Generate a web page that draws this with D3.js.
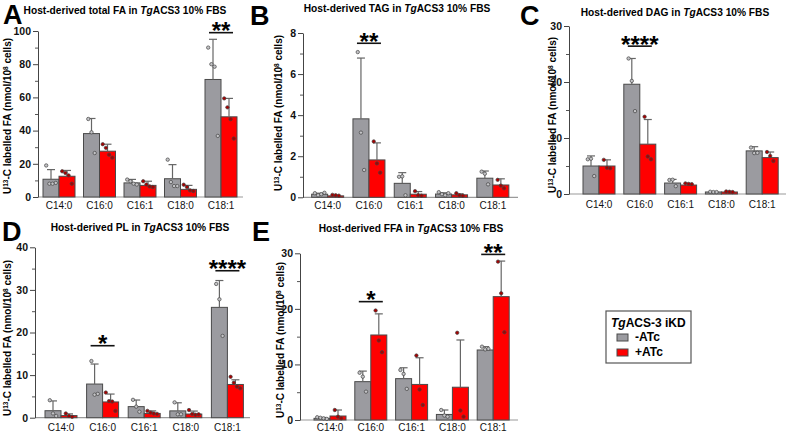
<!DOCTYPE html>
<html>
<head>
<meta charset="utf-8">
<script src="https://d3js.org/d3.v7.min.js"></script>
<style>
  body { margin: 0; background: #fff; }
  svg { font-family: Arial, 'Liberation Sans', Helvetica, sans-serif; }
  .tick text { fill: #111; }
</style>
</head>
<body>
<svg id="chart" width="789" height="432"></svg>
<script>
// categories and groups
var categories = ["C14:0", "C16:0", "C16:1", "C18:0", "C18:1"];
var groups = ["-ATc", "+ATc"];

// A: total FA
var totalMinus = [10.7, 38.2, 8.5, 11.0, 70.8];
var totalMinusSd = [5.8, 9.1, 2.1, 8.5, 24.2];
var totalMinusPts = [[19, 8, 8, 8.5], [47, 39, 26.5], [10.5, 9.5, 8, 7.5], [22.5, 9, 6.6, 6.6], [90, 80, 78.5, 36.8]];
var totalPlus = [12.5, 27.6, 7.0, 4.6, 48.3];
var totalPlusSd = [3.5, 4.2, 2.5, 2.4, 11.1];
var totalPlusPts = [[15.5, 14.5, 13, 8], [31.8, 29.6, 25.5, 23.7], [9.5, 7.6, 6.4, 6], [7.4, 6, 4, 3.6], [59.4, 54, 46.9, 35.2]];

// B: TAG
var tagMinus = [0.15, 3.82, 0.68, 0.16, 0.93];
var tagMinusSd = [0.05, 2.96, 0.52, 0.06, 0.35];
var tagMinusPts = [[0.2, 0.1, 0.15, 0.22], [7.07, 3.15, 1.33], [1.0, 1.02, 0.1], [0.25, 0.15, 0.1, 0.2], [1.25, 1.15, 0.63]];
var tagPlus = [0.07, 1.82, 0.15, 0.12, 0.6];
var tagPlusSd = [0.03, 0.83, 0.13, 0.05, 0.3];
var tagPlusPts = [[0.12, 0.1, 0.08], [2.72, 1.65, 1.2], [0.3, 0.1, 0.08], [0.2, 0.1, 0.08], [0.85, 0.57, 0.44]];

// C: DAG
var dagMinus = [5.0, 19.6, 1.96, 0.36, 7.7];
var dagMinusSd = [1.8, 4.6, 0.65, 0.05, 0.75];
var dagMinusPts = [[6.2, 6.3, 3.2], [24.2, 20.2, 14.8], [2.5, 2.55, 1.4], [0.4, 0.35, 0.35], [8.3, 7.3, 7.35]];
var dagPlus = [5.0, 8.9, 1.6, 0.36, 6.5];
var dagPlusSd = [1.1, 4.4, 0.3, 0.08, 1.0];
var dagPlusPts = [[6.1, 4.7, 4.6], [13.8, 6.7, 6.2], [1.9, 1.8, 1.75], [0.45, 0.4, 0.35], [7.5, 6.8, 5.9]];

// D: PL
var plMinus = [1.64, 7.9, 2.6, 1.6, 25.9];
var plMinusSd = [2.3, 4.7, 1.55, 1.9, 6.3];
var plMinusPts = [[4.1, 1.0, 0.4], [13.3, 5.4, 5.6], [4.2, 2.6, 1.4], [3.6, 0.8, 0.8], [31.4, 27.8, 19.2]];
var plPlus = [0.5, 3.7, 1.0, 0.86, 7.8];
var plPlusSd = [0.4, 1.85, 0.6, 0.7, 1.1];
var plPlusPts = [[1.0, 0.4, 0.2], [5.9, 3.9, 3.8, 1.6], [1.6, 1.2, 1.0, 0.9], [1.8, 0.9, 0.7, 0.8], [9.6, 8.2, 7.3, 6.9]];

// E: FFA
var ffaMinus = [0.3, 6.9, 7.44, 1.0, 12.6];
var ffaMinusSd = [0.15, 1.9, 1.96, 0.8, 0.6];
var ffaMinusPts = [[0.5, 0.4, 0.3, 0.2], [8.5, 7.8, 5.1], [9.0, 8.3, 5.6], [1.8, 0.8, 0.6], [13.2, 12.7, 12.8]];
var ffaPlus = [0.72, 15.3, 6.4, 5.9, 22.2];
var ffaPlusSd = [1.08, 3.8, 4.8, 8.5, 6.4];
var ffaPlusPts = [[1.8, 0.6, 0.3], [19.7, 14.3, 12.2], [11.6, 5.5, 2.7], [15.7, 1.7, 0.6], [28.5, 22.8, 15.8]];

// significance marks (category, stars, height in data units)
var sigTotal = [{cat: "C18:1", label: "**", at: 99}];
var sigTag = [{cat: "C16:0", label: "**", at: 7.5}];
var sigDag = [{cat: "C16:0", label: "****", at: 26.4}];
var sigPl = [{cat: "C16:0", label: "*", at: 16.9}, {cat: "C18:1", label: "****", at: 34.5}];
var sigFfa = [{cat: "C16:0", label: "*", at: 21.3}, {cat: "C18:1", label: "**", at: 29.8}];

var colors = {"-ATc": "#9b9ba0", "+ATc": "#ff0000"};
var ptFill = {"-ATc": "#c4c4c7", "+ATc": "#a80000"};

// panel layout
var panels = [
  {letter: "A", lipid: "total FA", minus: totalMinus, minusSd: totalMinusSd, minusPts: totalMinusPts,
   plus: totalPlus, plusSd: totalPlusSd, plusPts: totalPlusPts, sig: sigTotal, max: 100, step: 20,
   axisX: 38, axisEnd: 243, band: [38.75, 241.25], yBottom: 197, yTop: 31, labelPad: 5,
   letterPos: [3, 24], titlePos: [125, 14], yTitlePos: [11, 116]},
  {letter: "B", lipid: "TAG", minus: tagMinus, minusSd: tagMinusSd, minusPts: tagMinusPts,
   plus: tagPlus, plusSd: tagPlusSd, plusPts: tagPlusPts, sig: sigTag, max: 8, step: 2,
   axisX: 303, axisEnd: 518, band: [307, 513.5], yBottom: 197.3, yTop: 33, labelPad: 5,
   letterPos: [250, 25], titlePos: [397, 12], yTitlePos: [282, 113]},
  {letter: "C", lipid: "DAG", minus: dagMinus, minusSd: dagMinusSd, minusPts: dagMinusPts,
   plus: dagPlus, plusSd: dagPlusSd, plusPts: dagPlusPts, sig: sigDag, max: 30, step: 10,
   axisX: 569, axisEnd: 786, band: [578.6, 782.6], yBottom: 194, yTop: 26, labelPad: 7,
   letterPos: [520, 25], titlePos: [675, 16], yTitlePos: [556, 115]},
  {letter: "D", lipid: "PL", minus: plMinus, minusSd: plMinusSd, minusPts: plMinusPts,
   plus: plPlus, plusSd: plPlusSd, plusPts: plPlusPts, sig: sigPl, max: 40, step: 10,
   axisX: 35, axisEnd: 250, band: [40.2, 248.2], yBottom: 417.7, yTop: 247.3, labelPad: 6,
   letterPos: [2, 241], titlePos: [140, 231], yTitlePos: [11, 338]},
  {letter: "E", lipid: "FFA", minus: ffaMinus, minusSd: ffaMinusSd, minusPts: ffaMinusPts,
   plus: ffaPlus, plusSd: ffaPlusSd, plusPts: ffaPlusPts, sig: sigFfa, max: 30, step: 10,
   axisX: 300, axisEnd: 518, band: [309.6, 513.6], yBottom: 420, yTop: 253.3, labelPad: 4,
   letterPos: [252, 241], titlePos: [411, 232], yTitlePos: [284, 340]}
];

var svg = d3.select("#chart");
var barW = 16;

function drawPanel(p) {
  var g = svg.append("g").attr("class", "panel");

  var x = d3.scaleBand().domain(categories).range(p.band);
  var sub = d3.scaleBand().domain(groups).range([-barW, barW]);
  var y = d3.scaleLinear().domain([0, p.max]).range([p.yBottom, p.yTop]);

  // panel letter and title
  g.append("text")
    .attr("x", p.letterPos[0]).attr("y", p.letterPos[1])
    .style("font-size", "27px").style("font-weight", "bold")
    .text(p.letter);

  var title = g.append("text")
    .attr("x", p.titlePos[0]).attr("y", p.titlePos[1])
    .attr("text-anchor", "middle")
    .style("font-size", "10.2px").style("font-weight", "bold");
  title.append("tspan").text("Host-derived " + p.lipid + " in ");
  title.append("tspan").style("font-style", "italic").text("Tg");
  title.append("tspan").text("ACS3 10% FBS");

  // y axis title
  var yt = g.append("text")
    .attr("transform", "translate(" + p.yTitlePos[0] + "," + p.yTitlePos[1] + ") rotate(-90)")
    .attr("text-anchor", "middle")
    .style("font-size", "10px").style("font-weight", "bold");
  yt.append("tspan").text("U");
  yt.append("tspan").attr("baseline-shift", "super").style("font-size", "6.5px").text("13");
  yt.append("tspan").text("-C labelled FA (nmol/10");
  yt.append("tspan").attr("baseline-shift", "super").style("font-size", "6.5px").text("8");
  yt.append("tspan").text(" cells)");

  // x axis
  g.append("line")
    .attr("x1", p.axisX).attr("x2", p.axisEnd)
    .attr("y1", y(0)).attr("y2", y(0))
    .attr("stroke", "#9a9a9a").attr("stroke-width", 1.2);

  var xa = g.append("g")
    .attr("transform", "translate(0," + y(0) + ")")
    .call(d3.axisBottom(x).tickSize(0).tickPadding(p.labelPad));
  xa.select(".domain").remove();
  xa.selectAll("text").style("font-size", "10px").style("font-family", "Arial, 'Liberation Sans', sans-serif");

  // y axis, minor then major ticks
  var minor = d3.range(p.step / 2, p.max, p.step);
  var major = d3.range(0, p.max + p.step / 2, p.step);
  var ym = g.append("g")
    .attr("transform", "translate(" + p.axisX + ",0)")
    .call(d3.axisLeft(y).tickValues(minor).tickSize(3).tickFormat(""));
  ym.select(".domain").remove();
  ym.selectAll("line").attr("stroke", "#555");

  var ya = g.append("g")
    .attr("transform", "translate(" + p.axisX + ",0)")
    .call(d3.axisLeft(y).tickValues(major).tickSize(5).tickPadding(2).tickSizeOuter(0));
  ya.select(".domain").attr("stroke", "#444");
  ya.selectAll("line").attr("stroke", "#444");
  ya.selectAll("text").style("font-size", "10.5px").style("font-weight", "bold")
    .style("font-family", "Arial, 'Liberation Sans', sans-serif");

  // build rows
  var rows = [];
  categories.forEach(function (c, i) {
    rows.push({cat: c, grp: "-ATc", mean: p.minus[i], sd: p.minusSd[i], pts: p.minusPts[i]});
    rows.push({cat: c, grp: "+ATc", mean: p.plus[i], sd: p.plusSd[i], pts: p.plusPts[i]});
  });
  function cx(d) { return x(d.cat) + x.bandwidth() / 2 + sub(d.grp) + sub.bandwidth() / 2; }

  // bars
  g.selectAll(".bar").data(rows).enter().append("rect")
    .attr("class", "bar")
    .attr("x", function (d) { return x(d.cat) + x.bandwidth() / 2 + sub(d.grp); })
    .attr("width", sub.bandwidth())
    .attr("y", function (d) { return y(d.mean); })
    .attr("height", function (d) { return y(0) - y(d.mean); })
    .attr("fill", function (d) { return colors[d.grp]; })
    .attr("stroke", "#4a4a4a").attr("stroke-width", 1);

  // error bars (upper SD)
  var eb = g.selectAll(".err").data(rows).enter().append("g").attr("class", "err");
  eb.append("line")
    .attr("x1", cx).attr("x2", cx)
    .attr("y1", function (d) { return y(d.mean); })
    .attr("y2", function (d) { return y(d.mean + d.sd); })
    .attr("stroke", "#666").attr("stroke-width", 1.2);
  eb.append("line")
    .attr("x1", function (d) { return cx(d) - 4; })
    .attr("x2", function (d) { return cx(d) + 4; })
    .attr("y1", function (d) { return y(d.mean + d.sd); })
    .attr("y2", function (d) { return y(d.mean + d.sd); })
    .attr("stroke", "#666").attr("stroke-width", 1.2);

  // individual points
  rows.forEach(function (d) {
    var n = d.pts.length;
    g.selectAll(null).data(d.pts).enter().append("circle")
      .attr("cx", function (v, j) { return cx(d) + (j - (n - 1) / 2) * 3.2; })
      .attr("cy", function (v) { return y(v); })
      .attr("r", 1.7)
      .attr("fill", ptFill[d.grp])
      .attr("stroke", "#444").attr("stroke-width", 0.7);
  });

  // significance
  p.sig.forEach(function (s) {
    var c = x(s.cat) + x.bandwidth() / 2;
    g.append("line")
      .attr("x1", c - 12).attr("x2", c + 12)
      .attr("y1", y(s.at)).attr("y2", y(s.at))
      .attr("stroke", "#111").attr("stroke-width", 1.6);
    g.append("text")
      .attr("x", c).attr("y", y(s.at) + 6.5)
      .attr("text-anchor", "middle")
      .style("font-size", "24px").style("font-weight", "bold")
      .text(s.label);
  });
}

panels.forEach(drawPanel);

// legend
var lg = svg.append("g").attr("class", "legend");
lg.append("rect")
  .attr("x", 606).attr("y", 311).attr("width", 85).attr("height", 52)
  .attr("fill", "#fff").attr("stroke", "#555").attr("stroke-width", 1.2);
var lt = lg.append("text").attr("x", 611).attr("y", 327)
  .style("font-size", "12px").style("font-weight", "bold");
lt.append("tspan").style("font-style", "italic").text("Tg");
lt.append("tspan").text("ACS-3 iKD");
var ly = d3.scaleBand().domain(groups).range([330, 360]);
lg.selectAll(".sw").data(groups).enter().append("rect")
  .attr("x", 617).attr("y", function (d) { return ly(d) + 4; })
  .attr("width", 11).attr("height", 7)
  .attr("fill", function (d) { return colors[d]; })
  .attr("stroke", "#4a4a4a").attr("stroke-width", 1);
lg.selectAll(".lb").data(groups).enter().append("text")
  .attr("x", 635).attr("y", function (d) { return ly(d) + 11; })
  .style("font-size", "12px").style("font-weight", "bold")
  .text(function (d) { return d; });
</script>
</body>
</html>
